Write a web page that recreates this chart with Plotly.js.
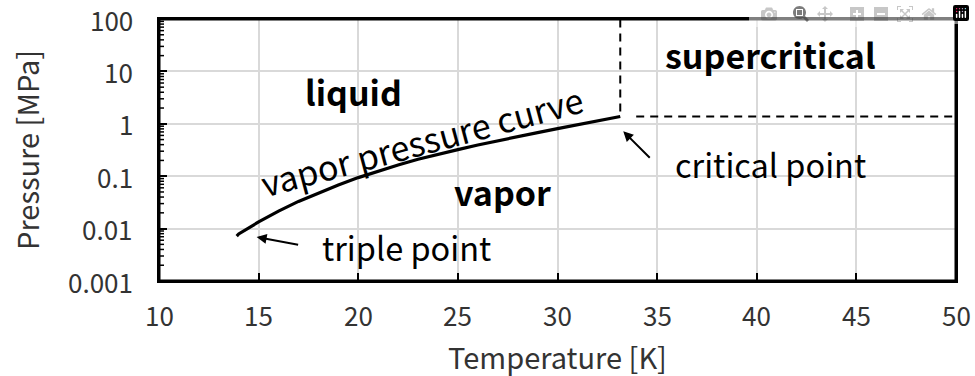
<!DOCTYPE html>
<html>
<head>
<meta charset="utf-8">
<script src="https://cdn.plot.ly/plotly-3.0.1.min.js"></script>
<style>html,body{margin:0;padding:0;background:#fff;}#chart{width:975px;height:376px;}</style>
</head>
<body>
<div id="chart"></div>
<script>
// Vapor pressure curve of hydrogen
const temperatureK = [13.9, 14, 15, 16, 17, 18, 19, 20, 21, 22, 23, 24, 25, 26, 27, 28, 29, 30, 31, 32, 33, 33.15];
const pressureMPa  = [0.0072, 0.0079, 0.0134, 0.0215, 0.033, 0.048, 0.068, 0.094, 0.126, 0.164, 0.21, 0.264, 0.322, 0.394, 0.477, 0.572, 0.68, 0.81, 0.955, 1.12, 1.32, 1.38];
const criticalT = 33.15;
const criticalP = 1.38;
const xRange = [10, 50];
const yRange = [0.001, 100];
const xTicks = [10, 15, 20, 25, 30, 35, 40, 45, 50];
const xTickText = ['10', '15', '20', '25', '30', '35', '40', '45', '50'];
const yTicks = [0.001, 0.01, 0.1, 1, 10, 100];
const yTickText = ['0.001', '0.01', '0.1', '1', '10', '100'];

const FONT = 'Noto Sans CJK JP, Noto Sans, sans-serif';
const L = Math.log10;

const W = 975, H = 376, M = {l: 159, r: 19, t: 19, b: 95};
const plotW = W - M.l - M.r, plotH = H - M.t - M.b;
const xPerPx = (xRange[1] - xRange[0]) / plotW;
const logPerPx = (L(yRange[1]) - L(yRange[0])) / plotH;

// minor tick positions (2..9 within each decade)
const minorTicks = [];
yTicks.slice(0, -1).forEach(d => { for (let k = 2; k <= 9; k++) minorTicks.push(d * k); });

const mtX = [], mtY = [];
minorTicks.forEach(v => { mtX.push(xRange[0], xRange[0] + 5 * xPerPx, null); mtY.push(v, v, null); });

const traces = [
  {x: temperatureK, y: pressureMPa, mode: 'lines', line: {color: '#000', width: 3.2}, showlegend: false},
  {x: [criticalT, criticalT], y: [criticalP * 1.25, yRange[1]], mode: 'lines', line: {color: '#000', width: 2, dash: '8px,6px'}, showlegend: false},
  {x: [criticalT + 0.8, xRange[1]], y: [criticalP, criticalP], mode: 'lines', line: {color: '#000', width: 2, dash: '8px,6px'}, showlegend: false},
  {x: mtX, y: mtY, mode: 'lines', line: {color: '#000', width: 1.5}, connectgaps: false, showlegend: false},
  {x: [xRange[0], xRange[1], xRange[1], xRange[0], xRange[0]], y: [yRange[0], yRange[0], yRange[1], yRange[1], yRange[0]],
   mode: 'lines', line: {color: '#000', width: 3}, cliponaxis: false, showlegend: false}
];

const bold = {family: FONT, size: 34, color: '#000', weight: 'bold'};
const reg = {family: FONT, size: 32.5, color: '#000'};
const tickFont = {family: FONT, size: 26, color: '#333'};
const titleFont = {family: FONT, size: 29, color: '#333'};

const annotations = [
  {x: 19.75, y: 0.626, text: '<b>liquid</b>', showarrow: false, font: bold},
  {x: 27.24, y: -1.30, text: '<b>vapor</b>', showarrow: false, font: bold},
  {x: 40.67, y: 1.332, text: '<b>supercritical</b>', showarrow: false, font: bold},
  {x: 40.70, y: -0.748, text: 'critical point', showarrow: false, font: reg},
  {x: 22.43, y: -2.332, text: 'triple point', showarrow: false, font: reg},
  {x: 23.2, y: -0.315, text: 'vapor pressure curve', showarrow: false, font: {family: FONT, size: 34, color: '#000'}, textangle: -15},
  {x: 14.9, y: L(0.0069), text: '', showarrow: true, arrowhead: 2, arrowsize: 1, arrowwidth: 2, arrowcolor: '#000', ax: 43, ay: 8},
  {x: 33.3, y: L(0.72), text: '', showarrow: true, arrowhead: 2, arrowsize: 1, arrowwidth: 2, arrowcolor: '#000', ax: 28, ay: 28},
  {xref: 'paper', yref: 'paper', x: 0.5006, y: -0.285, text: 'Temperature [K]', showarrow: false, font: titleFont, xanchor: 'center', yanchor: 'middle'},
  {xref: 'paper', yref: 'paper', x: -0.1669, y: 0.5, text: 'Pressure [MPa]', showarrow: false, font: titleFont, textangle: -90, xanchor: 'center', yanchor: 'middle'}
];
xTicks.forEach((v, i) => annotations.push({xref: 'x', yref: 'paper', x: v, y: -0.126, text: xTickText[i], showarrow: false, font: tickFont, xanchor: 'center', yanchor: 'middle'}));
yTicks.forEach((v, i) => annotations.push({xref: 'paper', yref: 'y', x: -0.0301, y: L(v), text: yTickText[i], showarrow: false, font: tickFont, xanchor: 'right', yanchor: 'middle'}));

const layout = {
  width: W, height: H,
  margin: M,
  xaxis: {
    range: xRange, tickvals: xTicks, showticklabels: false,
    showline: true, linecolor: '#000', linewidth: 2, mirror: true,
    ticks: 'inside', ticklen: 8, tickcolor: '#000', tickwidth: 2,
    gridcolor: '#d9d9d9', gridwidth: 1.5
  },
  yaxis: {
    type: 'log', range: [L(yRange[0]), L(yRange[1])], tickvals: yTicks, showticklabels: false,
    showline: true, linecolor: '#000', linewidth: 2, mirror: true,
    ticks: 'inside', ticklen: 8, tickcolor: '#000', tickwidth: 2,
    gridcolor: '#d9d9d9', gridwidth: 1.5
  },
  annotations: annotations
};

Plotly.newPlot('chart', traces, layout);
</script>
</body>
</html>
